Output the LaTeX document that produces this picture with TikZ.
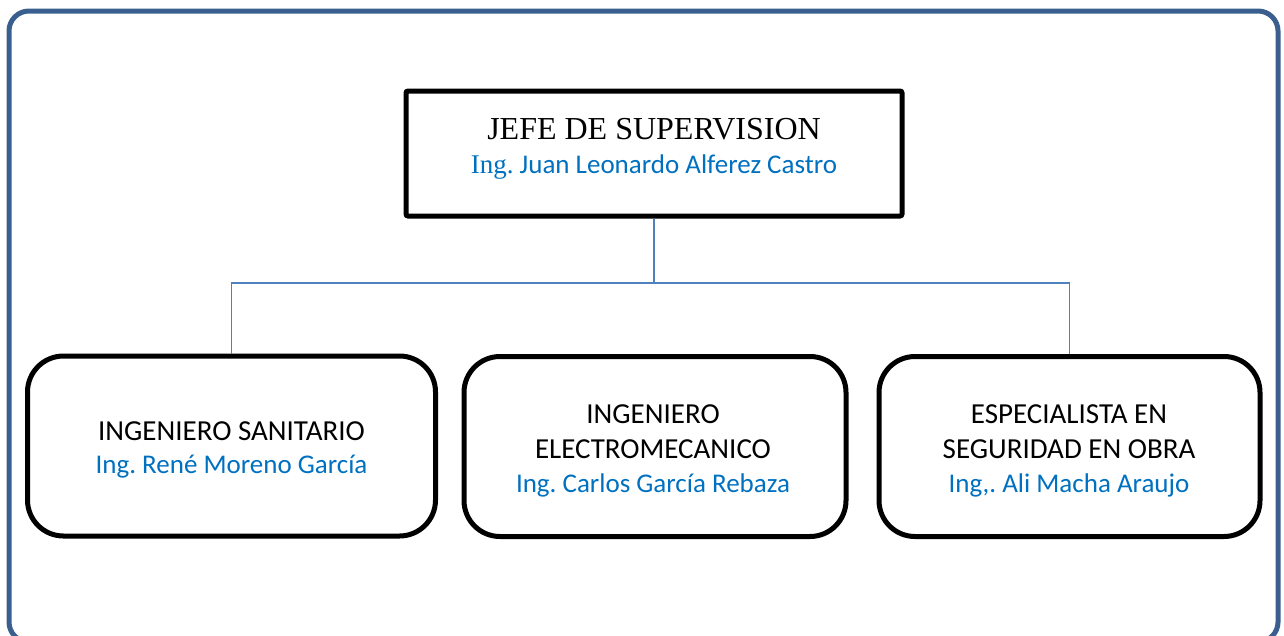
\documentclass[tikz,border=0pt]{standalone}
\usepackage{fontspec}
\setmainfont{Carlito}
\newfontfamily\timesf{Liberation Serif}
\definecolor{framec}{RGB}{58,95,143}
\definecolor{connc}{RGB}{79,129,189}
\definecolor{namec}{RGB}{0,112,192}
\frenchspacing
\begin{document}
\begin{tikzpicture}[x=1pt,y=-1pt,
  framest/.style={draw=framec,line width=5pt,rounded corners=20pt},
  topbox/.style={draw=black,line width=5pt,rounded corners=2pt,minimum width=496pt,minimum height=125pt,inner sep=0pt},
  rolebox/.style={draw=black,line width=5pt,rounded corners=36pt,minimum height=180pt,inner sep=0pt},
  conn/.style={draw=connc,line width=1.6pt},
  titlest/.style={anchor=base,inner sep=0pt,font=\timesf\fontsize{32}{38}\selectfont},
  rolest/.style={anchor=base,inner sep=0pt,font=\fontsize{29}{35}\selectfont},
  namest/.style={anchor=base,inner sep=0pt,text=namec,font=\fontsize{27}{33}\selectfont}]
\useasboundingbox (0,0) rectangle (1284,635);
\begin{scope}
\clip (0,0) rectangle (1284,635);
\draw[framest] (9,11) rectangle (1278,642);
\end{scope}
% boxes
\node[topbox] (jefe) at (654,153.5) {};
\node[rolebox,minimum width=408pt] (sani) at (231.5,446) {};
\node[rolebox,minimum width=382pt] (elec) at (655,446.5) {};
\node[rolebox,minimum width=381pt] (segu) at (1069.5,446.5) {};
% connectors
\coordinate (bus) at (654,283);
\draw[conn] (jefe.south) -- (bus);
\draw[conn] (sani.north) |- (bus) -| (segu.north);
% texts
\node[titlest] (t1) at (654,139) {JEFE DE SUPERVISION};
\node[namest] (n1) at (654,173.5) {{\timesf Ing.} Juan Leonardo Alferez Castro};
\node[rolest] (t2) at (231.5,440) {INGENIERO SANITARIO};
\node[namest] (n2) at (231.5,473) {Ing. René Moreno García};
\node[rolest] (t3a) at (653,423) {INGENIERO};
\node[rolest] (t3b) at (653,458) {ELECTROMECANICO};
\node[namest] (n3) at (653,492) {Ing. Carlos García Rebaza};
\node[rolest] (t4a) at (1069,423) {ESPECIALISTA EN};
\node[rolest] (t4b) at (1069,458) {SEGURIDAD EN OBRA};
\node[namest] (n4) at (1069,492) {Ing,. Ali Macha Araujo};
\end{tikzpicture}
\end{document}
